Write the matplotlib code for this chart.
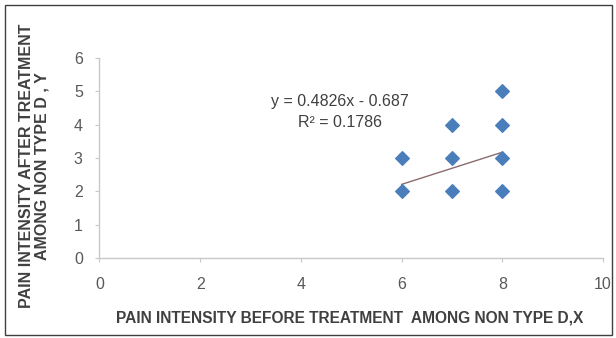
import numpy as np
import matplotlib.pyplot as plt
from matplotlib.patches import Rectangle

# data
x_before = [6, 6, 7, 7, 7, 8, 8, 8, 8]
y_after = [2, 3, 2, 3, 4, 2, 3, 4, 5]
slope = 0.4826
intercept = -0.687
r_squared = 0.1786
x_ticks = [0, 2, 4, 6, 8, 10]
y_ticks = [0, 1, 2, 3, 4, 5, 6]

plt.rcParams['font.family'] = ['Liberation Sans', 'DejaVu Sans']

fig = plt.figure(figsize=(6.16, 3.38), dpi=100)
ax = fig.add_axes([0.1615, 0.2367, 0.8175, 0.5917])

ax.scatter(x_before, y_after, marker='D', s=48, color='#4a7ebb', edgecolors='#4a7ebb', zorder=3)

xs = np.array([min(x_before), max(x_before)])
ax.plot(xs, slope * xs + intercept, color='#8c6b6e', lw=1.0, zorder=2)

ax.text(4.78, 4.68, f"y = {slope}x - {abs(intercept)}", ha='center', va='center',
        fontsize=11.5, color='#404040')
ax.text(4.78, 4.05, f"R\u00b2 = {r_squared}", ha='center', va='center',
        fontsize=11.5, color='#404040')

ax.set_xlim(0, 10)
ax.set_ylim(0, 6)
ax.set_xticks(x_ticks)
ax.set_yticks(y_ticks)
for side in ['top', 'right']:
    ax.spines[side].set_visible(False)
for side in ['left', 'bottom']:
    ax.spines[side].set_color('#c8c8c8')
    ax.spines[side].set_linewidth(1.0)
ax.tick_params(axis='both', direction='out', length=3, color='#c8c8c8',
               labelcolor='#595959', labelsize=11.5)
ax.tick_params(axis='x', pad=11)
ax.tick_params(axis='y', pad=9)

fig.text(0.568, 0.06, 'PAIN INTENSITY BEFORE TREATMENT  AMONG NON TYPE D,X',
         ha='center', va='center', fontsize=11.2, fontweight='bold', color='#404040')
fig.text(0.056, 0.51, 'PAIN INTENSITY AFTER TREATMENT\nAMONG NON TYPE D , Y',
         ha='center', va='center', rotation=90, fontsize=11.5, fontweight='bold',
         color='#404040', linespacing=1.0)

fig.patches.append(Rectangle((5 / 616, 3 / 338), 607 / 616, 330 / 338, transform=fig.transFigure,
                             fill=False, edgecolor='#404040', lw=1.0))

fig.savefig('out.png', dpi=100, facecolor='white')
